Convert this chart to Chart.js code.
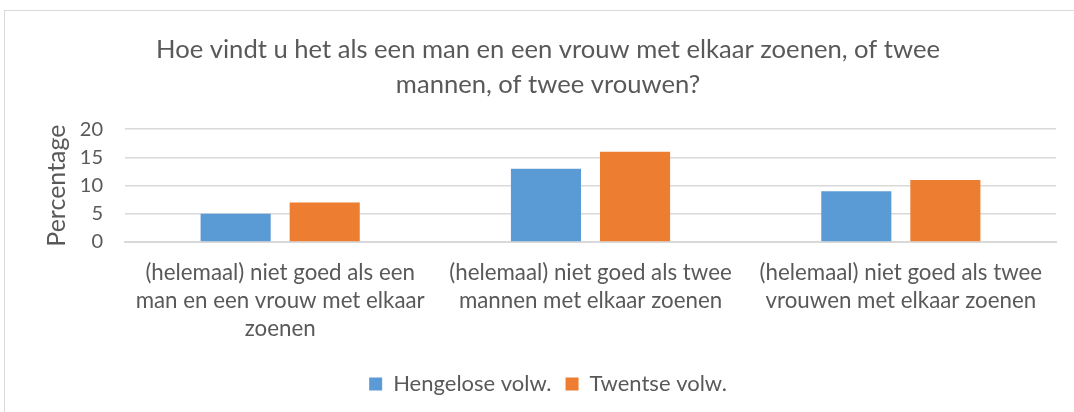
<!DOCTYPE html>
<html>
<head>
<meta charset="utf-8">
<script src="https://cdn.jsdelivr.net/npm/chart.js@4"></script>
<style>
  body { margin: 0; background: #fff; }
  #frame { position: absolute; left: 4px; top: 10px; width: 1080px; height: 410px; border: 1px solid #d9d9d9; box-sizing: border-box; }
  #wrap { position: absolute; left: 0; top: 0; width: 1074px; height: 412px; }
</style>
</head>
<body>
<div id="frame"></div>
<div id="wrap"><canvas id="chart"></canvas></div>
<script>
// categorieen en waarden
var categories = [
	["(helemaal) niet goed als een", "man en een vrouw met elkaar", "zoenen"],
	["(helemaal) niet goed als twee", "mannen met elkaar zoenen"],
	["(helemaal) niet goed als twee", "vrouwen met elkaar zoenen"]
];
var hengeloValues = [5, 13, 9];
var twentseValues = [7, 16, 11];
var yTicks = [0, 5, 10, 15, 20];

var grey = '#595959';
var fontName = "Lato, sans-serif";

var ctx = document.getElementById('chart').getContext('2d');
var chart = new Chart(ctx, {
	type: 'bar',
	data: {
		labels: categories,
		datasets: [{
			label: 'Hengelose volw.',
			data: hengeloValues,
			backgroundColor: '#5b9bd5',
			barPercentage: 0.787,
			categoryPercentage: 0.574
		}, {
			label: 'Twentse volw.',
			data: twentseValues,
			backgroundColor: '#ed7d31',
			barPercentage: 0.787,
			categoryPercentage: 0.574
		}]
	},
	options: {
		responsive: true,
		maintainAspectRatio: false,
		animation: false,
		layout: { padding: { left: 40, right: 18, top: 32, bottom: 7 } },
		plugins: {
			title: {
				display: true,
				text: ['Hoe vindt u het als een man en een vrouw met elkaar zoenen, of twee', 'mannen, of twee vrouwen?'],
				color: grey,
				font: { family: fontName, size: 25.6, weight: 'normal', lineHeight: 1.37 },
				padding: { top: 0, bottom: 27 }
			},
			legend: {
				position: 'bottom',
				labels: {
					color: grey,
					font: { family: fontName, size: 22 },
					boxWidth: 13,
					boxHeight: 13,
					padding: 14
				}
			},
			tooltip: { enabled: false }
		},
		scales: {
			x: {
				grid: { display: false },
				border: { color: '#d9d9d9', width: 2 },
				afterFit: function(scale) { scale.height = 117; },
				ticks: {
					color: grey,
					font: { family: fontName, size: 22.3, lineHeight: 1.255 },
					maxRotation: 0,
					autoSkip: false,
					padding: 9
				}
			},
			y: {
				min: 0,
				max: 20,
				afterBuildTicks: function(axis) {
					axis.ticks = yTicks.map(function(v) { return { value: v }; });
				},
				afterFit: function(scale) { scale.width = 85; },
				grid: { color: '#d9d9d9', lineWidth: 1.5, drawTicks: false },
				border: { display: false },
				ticks: {
					color: grey,
					font: { family: fontName, size: 20 },
					padding: 22
				},
				title: {
					display: true,
					text: 'Percentage',
					color: grey,
					font: { family: fontName, size: 25 },
					padding: { top: 2, bottom: 0 }
				}
			}
		}
	}
});
</script>
</body>
</html>
